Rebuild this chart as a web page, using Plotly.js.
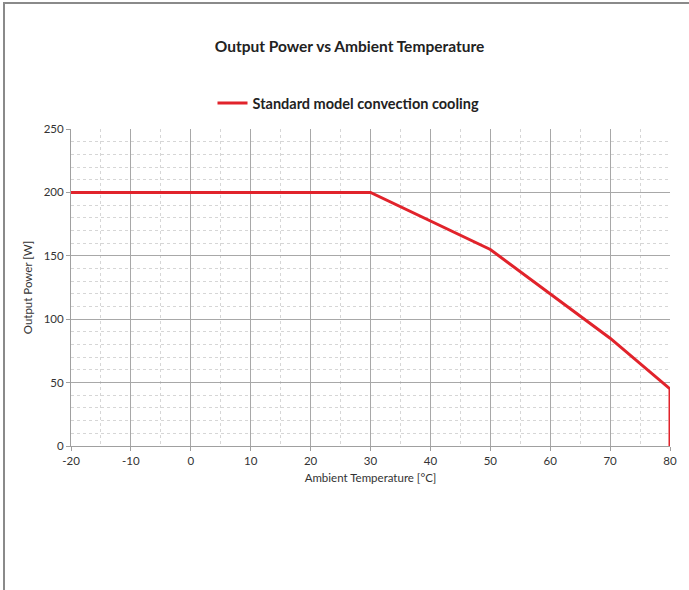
<!DOCTYPE html>
<html>
<head>
<meta charset="utf-8">
<script src="https://cdn.plot.ly/plotly-3.0.1.min.js"></script>
<style>
html,body{margin:0;padding:0;background:#fff;}
#frame{position:absolute;left:3px;top:2px;width:686px;height:588px;border-left:2px solid #8a8a8a;border-top:2px solid #8a8a8a;box-sizing:border-box;pointer-events:none;z-index:5;}
#chart{width:689px;height:590px;}
</style>
</head>
<body>
<div id="frame"></div>
<div id="chart"></div>
<script>
const seriesName = "Standard model convection cooling";
const ambientTemp = [-20, 30, 50, 70, 80, 80];
const outputPower = [200, 200, 155, 85, 45, 0];
const xTickVals = [-20, -10, 0, 10, 20, 30, 40, 50, 60, 70, 80];
const yTickVals = [0, 50, 100, 150, 200, 250];

const fontFam = "Lato, 'Open Sans', sans-serif";

const data = [{
  x: ambientTemp,
  y: outputPower,
  type: 'scatter',
  mode: 'lines',
  name: seriesName,
  line: {color: '#e1232b', width: 3}
}];

const layout = {
  width: 689, height: 590,
  margin: {l: 71, r: 19, t: 129, b: 144},
  paper_bgcolor: '#fff', plot_bgcolor: '#fff',
  font: {family: fontFam, color: '#333'},
  title: {text: '<b>Output Power vs Ambient Temperature</b>', x: 0.5 + 5/689, xanchor: 'center', y: 1 - 47/590, yanchor: 'middle', yref: 'container',
          font: {family: fontFam, size: 15.5, color: '#222'}},
  showlegend: true,
  legend: {orientation: 'h', x: 0.5 - 22/599, xanchor: 'center', y: 1 + 26/317, yanchor: 'middle',
           font: {family: fontFam, size: 14.5, color: '#222', weight: 'bold'}, itemwidth: 30},
  xaxis: {
    range: [-20, 80], tickvals: xTickVals, ticktext: xTickVals.map(String),
    showgrid: true, gridcolor: '#a8a8a8', gridwidth: 1,
    zeroline: false, showline: true, linecolor: '#a0a0a0', linewidth: 1,
    ticks: 'outside', ticklen: 4, tickcolor: '#a0a0a0',
    tickfont: {size: 11.5, color: '#333'},
    minor: {dtick: 5, showgrid: true, gridcolor: '#d6d6d6', griddash: 'dot', gridwidth: 1},
    title: {text: 'Ambient Temperature [°C]', font: {size: 11.5, color: '#333'}, standoff: 8},
    automargin: false
  },
  yaxis: {
    range: [0, 250], tickvals: yTickVals, ticktext: yTickVals.map(String),
    showgrid: true, gridcolor: '#a8a8a8', gridwidth: 1,
    zeroline: false, showline: true, linecolor: '#a0a0a0', linewidth: 1,
    ticks: 'outside', ticklen: 4, tickcolor: '#a0a0a0',
    tickfont: {size: 11.5, color: '#333'},
    minor: {dtick: 10, showgrid: true, gridcolor: '#d6d6d6', griddash: 'dot', gridwidth: 1},
    title: {text: 'Output Power [W]', font: {size: 11.5, color: '#333'}, standoff: 8},
    automargin: false
  }
};

Plotly.newPlot('chart', data, layout, {displayModeBar: false, staticPlot: true});
</script>
</body>
</html>
